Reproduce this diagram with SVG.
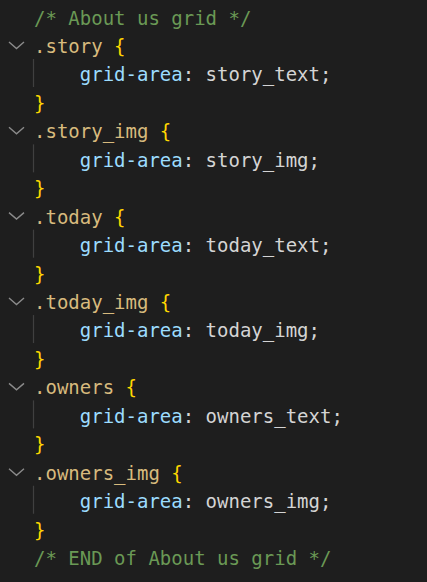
<svg xmlns="http://www.w3.org/2000/svg" width="427" height="582" viewBox="0 0 427 582">
<style>
text{font-family:"DejaVu Sans Mono","Liberation Mono",monospace;font-size:19px;white-space:pre;fill:#d4d4d4}
.c{fill:#6a9955}.s{fill:#d7ba7d}.b{fill:#ffd700}.p{fill:#9cdcfe}.v{fill:#d4d4d4}
.chev{fill:none;stroke:#8b8b8b;stroke-width:1.4}
.guide{stroke:#404040;stroke-width:1.2}
</style>
<defs>
<path id="chev" class="chev" d="M9,-11 L16.5,-4.5 L24,-11"/>
<line id="guide" class="guide" x1="33.5" y1="-22.4" x2="33.5" y2="5.6"/>
</defs>
<rect width="427" height="582" fill="#1e1e1e"/>
<text x="34" y="24.5" class="c">/* About us grid */</text>
<g id="story">
<use href="#chev" y="52.95"/>
<text x="34" y="52.95"><tspan class="s">.story</tspan> <tspan class="b">{</tspan></text>
<use href="#guide" y="81.4"/>
<text x="34" y="81.4">    <tspan class="p">grid-area</tspan>: <tspan class="v">story_text</tspan>;</text>
<text x="34" y="109.85" class="b">}</text>
</g>
<g id="story_img">
<use href="#chev" y="138.3"/>
<text x="34" y="138.3"><tspan class="s">.story_img</tspan> <tspan class="b">{</tspan></text>
<use href="#guide" y="166.75"/>
<text x="34" y="166.75">    <tspan class="p">grid-area</tspan>: <tspan class="v">story_img</tspan>;</text>
<text x="34" y="195.2" class="b">}</text>
</g>
<g id="today">
<use href="#chev" y="223.65"/>
<text x="34" y="223.65"><tspan class="s">.today</tspan> <tspan class="b">{</tspan></text>
<use href="#guide" y="252.1"/>
<text x="34" y="252.1">    <tspan class="p">grid-area</tspan>: <tspan class="v">today_text</tspan>;</text>
<text x="34" y="280.55" class="b">}</text>
</g>
<g id="today_img">
<use href="#chev" y="309"/>
<text x="34" y="309"><tspan class="s">.today_img</tspan> <tspan class="b">{</tspan></text>
<use href="#guide" y="337.45"/>
<text x="34" y="337.45">    <tspan class="p">grid-area</tspan>: <tspan class="v">today_img</tspan>;</text>
<text x="34" y="365.9" class="b">}</text>
</g>
<g id="owners">
<use href="#chev" y="394.35"/>
<text x="34" y="394.35"><tspan class="s">.owners</tspan> <tspan class="b">{</tspan></text>
<use href="#guide" y="422.8"/>
<text x="34" y="422.8">    <tspan class="p">grid-area</tspan>: <tspan class="v">owners_text</tspan>;</text>
<text x="34" y="451.25" class="b">}</text>
</g>
<g id="owners_img">
<use href="#chev" y="479.7"/>
<text x="34" y="479.7"><tspan class="s">.owners_img</tspan> <tspan class="b">{</tspan></text>
<use href="#guide" y="508.15"/>
<text x="34" y="508.15">    <tspan class="p">grid-area</tspan>: <tspan class="v">owners_img</tspan>;</text>
<text x="34" y="536.6" class="b">}</text>
</g>
<text x="34" y="565.05" class="c">/* END of About us grid */</text>
</svg>
